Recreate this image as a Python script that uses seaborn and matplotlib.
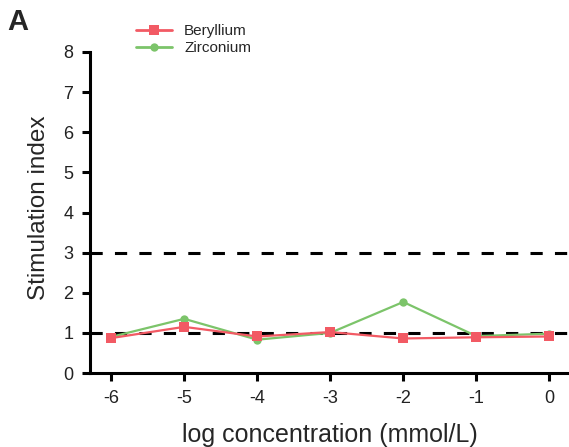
import matplotlib
matplotlib.use("Agg")
import matplotlib.pyplot as plt
from matplotlib.lines import Line2D
import seaborn as sns
import pandas as pd

log_conc = [-6, -5, -4, -3, -2, -1, 0]
beryllium = [0.87, 1.15, 0.91, 1.02, 0.86, 0.89, 0.91]
zirconium = [0.90, 1.35, 0.83, 1.00, 1.77, 0.92, 0.98]
threshold_lines = [1, 3]
x_ticks = [-6, -5, -4, -3, -2, -1, 0]
y_ticks = [0, 1, 2, 3, 4, 5, 6, 7, 8]

red = "#F25A64"
green = "#7CC46A"

sns.set_theme(style="ticks")
plt.rcParams["font.family"] = ["Liberation Sans", "DejaVu Sans"]

df = pd.DataFrame({
    "log concentration (mmol/L)": log_conc * 2,
    "Stimulation index": beryllium + zirconium,
    "metal": ["Beryllium"] * len(log_conc) + ["Zirconium"] * len(log_conc),
})

fig = plt.figure(figsize=(5.69, 4.47), dpi=100)
ax = fig.add_axes([90 / 569, 74 / 447, 1 - 90 / 569, (373 - 52) / 447])

for yv in threshold_lines:
    ax.axhline(yv, color="black", lw=2.2, linestyle=(0, (4, 4)), zorder=1)

sns.lineplot(data=df[df.metal == "Zirconium"], x="log concentration (mmol/L)",
             y="Stimulation index", color=green, marker="o", markersize=6,
             markeredgewidth=0, lw=1.6, ax=ax, zorder=3)
sns.lineplot(data=df[df.metal == "Beryllium"], x="log concentration (mmol/L)",
             y="Stimulation index", color=red, marker="s", markersize=6.5,
             markeredgewidth=0, lw=1.6, ax=ax, zorder=4)

ax.set_xlim(-6.29, 0.27)
ax.set_ylim(0, 8)
ax.set_xticks(x_ticks)
ax.set_xticklabels([str(v) for v in x_ticks])
ax.set_yticks(y_ticks)
ax.tick_params(axis="both", length=6, width=2.2, labelsize=13, color="black",
               labelcolor="#222222", pad=6)
for s in ["top", "right"]:
    ax.spines[s].set_visible(False)
for s in ["left", "bottom"]:
    ax.spines[s].set_linewidth(2.2)
    ax.spines[s].set_color("black")
    ax.spines[s].set_capstyle("projecting")

ax.set_xlabel("log concentration (mmol/L)", fontsize=18, labelpad=12)
ax.set_ylabel("Stimulation index", fontsize=17.5)
ax.yaxis.set_label_coords(-0.084, 0.515)

handles = [
    Line2D([], [], color=red, marker="s", markersize=6.5, markeredgewidth=0, lw=2),
    Line2D([], [], color=green, marker="o", markersize=6, markeredgewidth=0, lw=2),
]
fig.legend(handles, ["Beryllium", "Zirconium"], loc="upper left",
           bbox_to_anchor=(136 / 569, 1 - 24 / 447), frameon=False,
           fontsize=11, handlelength=2.35, handletextpad=0.8,
           borderpad=0, borderaxespad=0, labelspacing=0.2)

fig.text(7 / 569, 1 - 8 / 447, "A", fontsize=21, fontweight="bold",
         va="top", ha="left")

fig.savefig("out.png", dpi=100)
